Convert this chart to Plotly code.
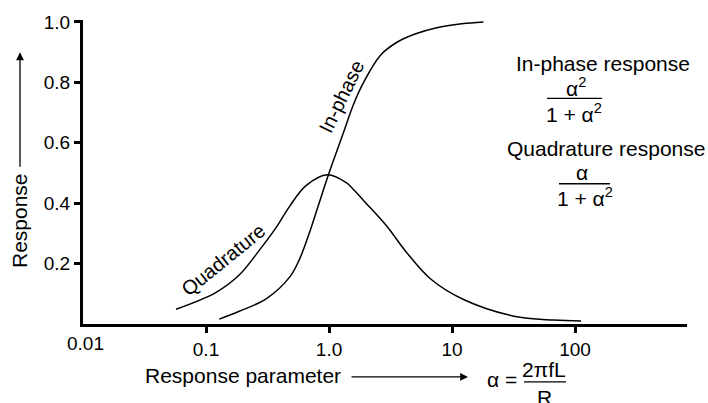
import plotly.graph_objects as go

# Response parameter alpha and the two response curves
alpha_inphase = [0.128, 0.186, 0.31, 0.48, 0.575, 0.69, 0.83, 1.0, 1.3, 1.58, 1.91, 2.62, 3.54, 5.0, 7.5, 12.0, 18.0]
inphase = [0.016, 0.042, 0.084, 0.156, 0.214, 0.30, 0.40, 0.50, 0.63, 0.727, 0.80, 0.89, 0.932, 0.96, 0.981, 0.994, 1.0]

alpha_quad = [0.057, 0.12, 0.186, 0.27, 0.37, 0.475, 0.65, 0.97, 1.38, 1.58, 2.0, 2.93, 4.27, 6.7, 12.4, 31.8, 67.0, 112.0]
quadrature = [0.049, 0.104, 0.162, 0.243, 0.318, 0.388, 0.458, 0.494, 0.468, 0.445, 0.40, 0.325, 0.237, 0.149, 0.081, 0.026, 0.013, 0.01]

x_tickvals = [0.1, 1, 10, 100]
x_ticktext = ["0.1", "1.0", "10", "100"]
y_tickvals = [0.2, 0.4, 0.6, 0.8, 1.0]
y_ticktext = ["0.2", "0.4", "0.6", "0.8", "1.0"]

W, H = 708, 403
L, R, T, B = 83, 687, 14, 324
FONT = "Liberation Sans, Arial, Helvetica, sans-serif"


def px(x):
    return (x - L) / (R - L)


def py(y):
    return (B - y) / (B - T)


fig = go.Figure()
for xs, ys in ((alpha_quad, quadrature), (alpha_inphase, inphase)):
    fig.add_trace(go.Scatter(
        x=xs, y=ys, mode="lines",
        line=dict(color="black", width=1.5, shape="spline", smoothing=1.0),
        showlegend=False, hoverinfo="skip",
    ))

annotations = []


def text(s, x, y, size=21, angle=0):
    annotations.append(dict(
        text=s, xref="paper", yref="paper", x=px(x), y=py(y),
        xanchor="center", yanchor="middle", showarrow=False,
        textangle=angle, font=dict(size=size, color="black", family=FONT),
    ))


def arrow(x_head, y_head, x_tail, y_tail):
    annotations.append(dict(
        text="", xref="paper", yref="paper", x=px(x_head), y=py(y_head),
        ax=x_tail - x_head, ay=y_tail - y_head, showarrow=True,
        arrowhead=2, arrowsize=1.2, arrowwidth=1.3, arrowcolor="black",
    ))


# axis captions
text("0.01", 85, 344, size=19)
text("Response", 19, 219, angle=-90)
arrow(20, 47, 20, 163)
text("Response parameter", 243, 377)
arrow(468, 378, 350, 378)
text("α =", 502, 381)
text("2πfL", 544, 370)
text("R", 544, 399)

# curve labels
text("Quadrature", 223, 259, size=20, angle=-39)
text("In-phase", 342, 92, size=20, angle=-64)

# response formulas
text("In-phase response", 603, 58)
text("α<sup>2</sup>", 576, 82)
text("1 + α<sup>2</sup>", 574, 109)
text("Quadrature response", 606, 145)
text("α", 582, 170)
text("1 + α<sup>2</sup>", 585, 195)

shapes = []
for x0, x1, y in ((547, 602, 94), (559, 610, 181), (524, 566, 383)):
    shapes.append(dict(type="line", xref="paper", yref="paper",
                       x0=px(x0), x1=px(x1), y0=py(y), y1=py(y),
                       line=dict(color="black", width=1.3)))

fig.update_layout(
    width=W, height=H,
    margin=dict(l=L, r=W - R, t=T, b=H - B),
    paper_bgcolor="white", plot_bgcolor="white",
    font=dict(family=FONT, color="black"),
    annotations=annotations, shapes=shapes,
    xaxis=dict(
        type="log", range=[-2, 2.91],
        tickvals=x_tickvals, ticktext=x_ticktext,
        ticks="outside", ticklen=6, tickwidth=2.5, tickcolor="black",
        showline=True, linewidth=3, linecolor="black",
        showgrid=False, zeroline=False,
        tickfont=dict(size=19, family=FONT, color="black"),
    ),
    yaxis=dict(
        range=[0, 1.0065],
        tickvals=y_tickvals, ticktext=y_ticktext,
        ticks="outside", ticklen=6, tickwidth=2.5, tickcolor="black",
        showline=True, linewidth=3, linecolor="black",
        showgrid=False, zeroline=False,
        tickfont=dict(size=19, family=FONT, color="black"),
    ),
)

fig.write_html("out.html")
